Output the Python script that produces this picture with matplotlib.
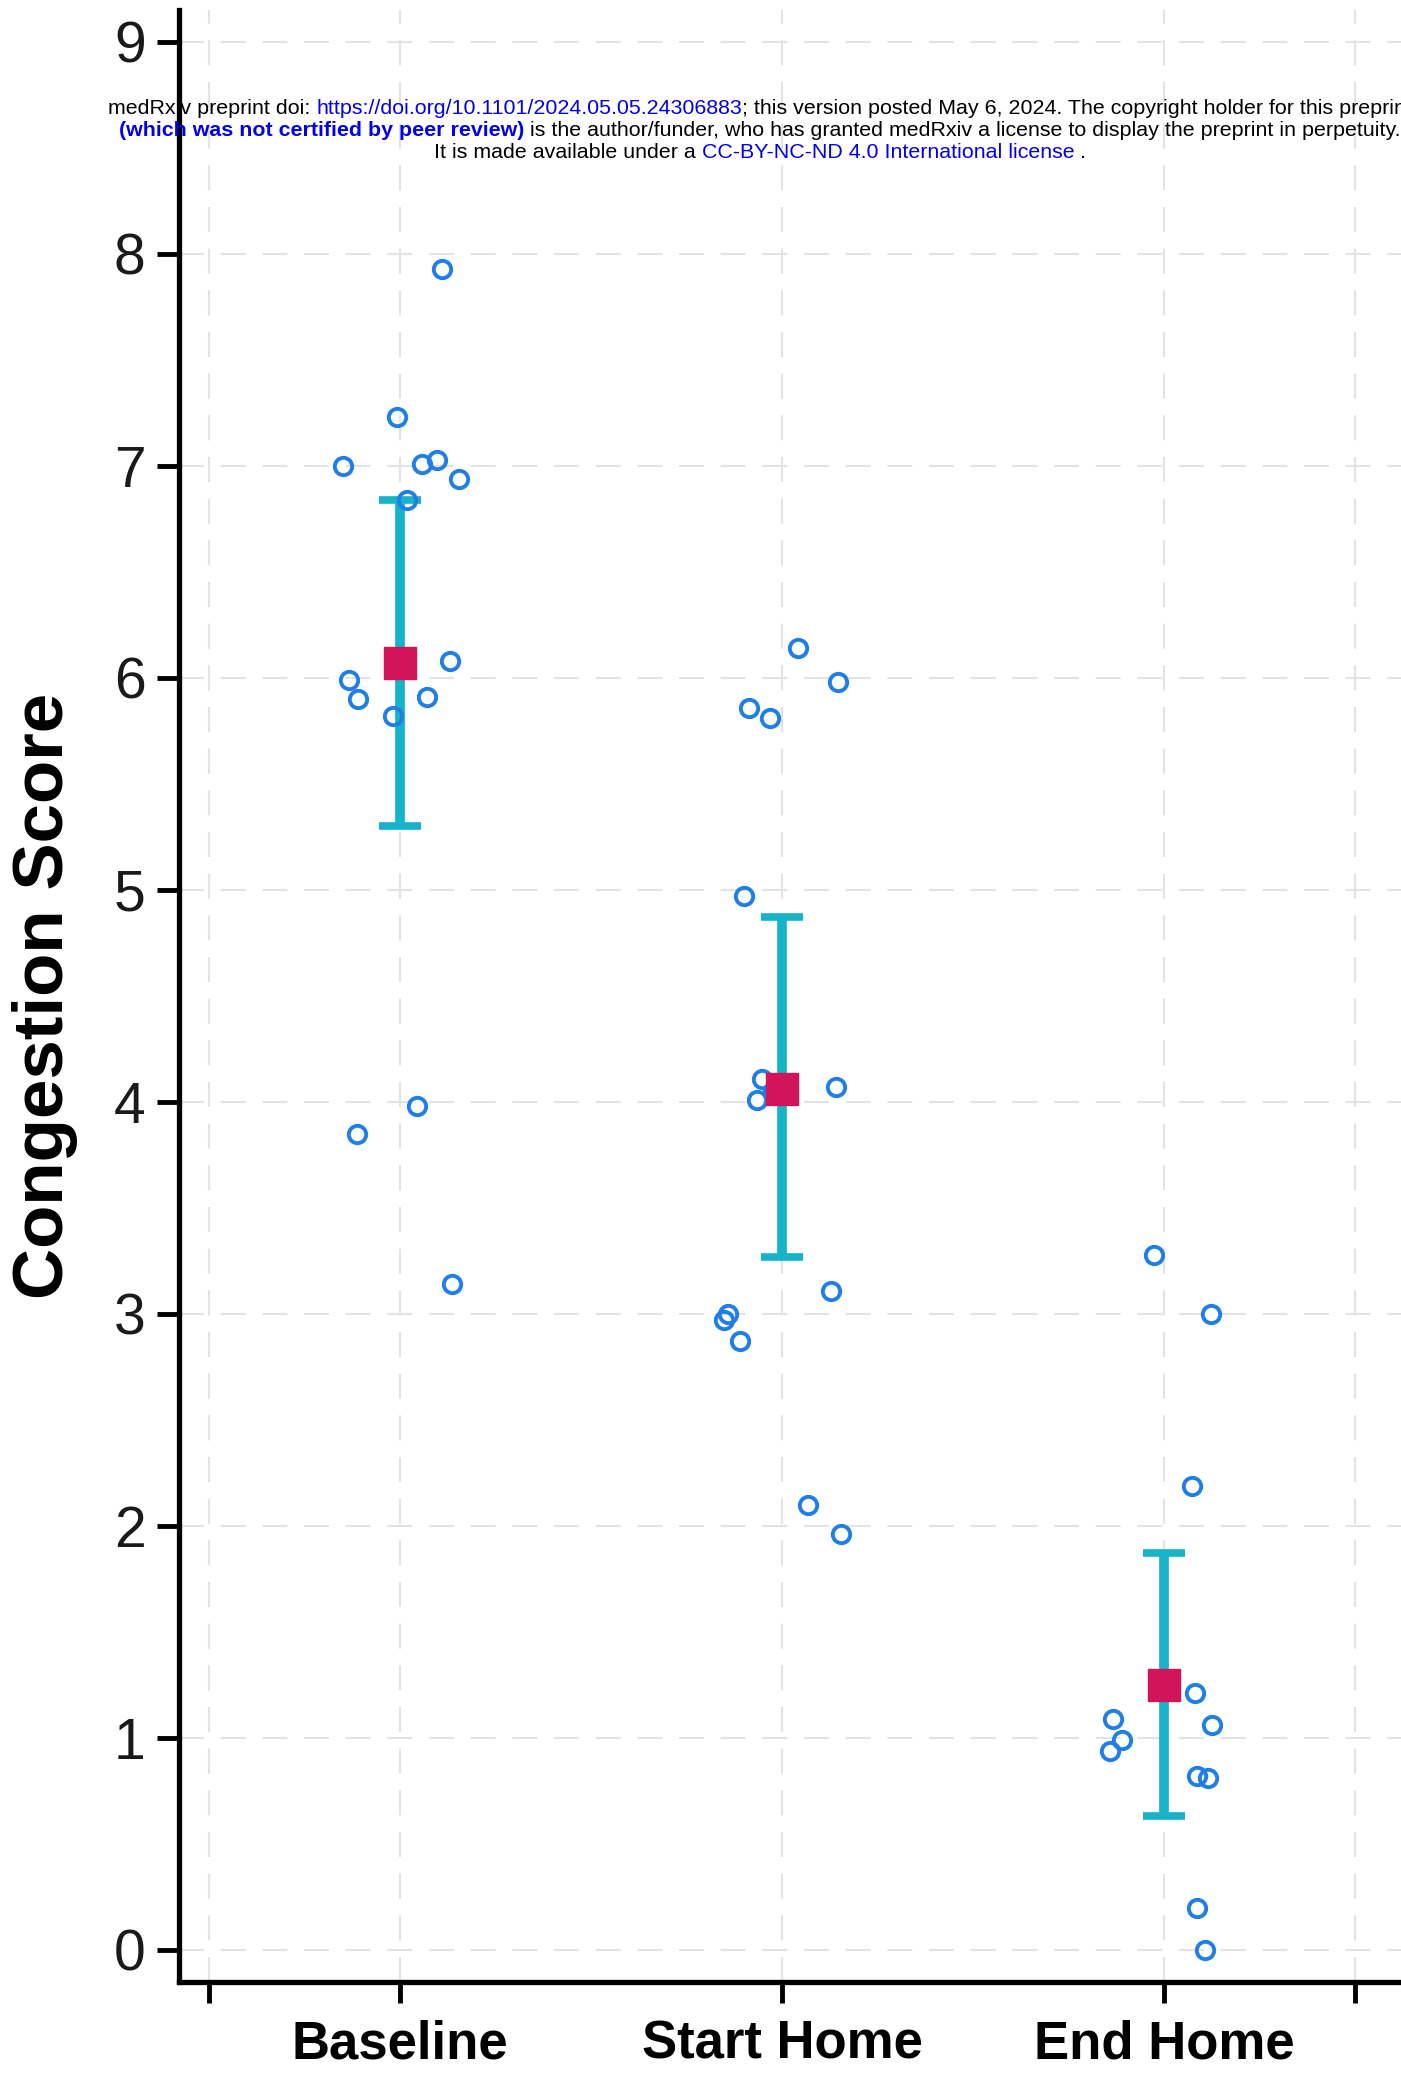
import matplotlib
matplotlib.use('Agg')
import matplotlib.pyplot as plt
import numpy as np

plt.rcParams['font.family'] = ['Liberation Sans', 'DejaVu Sans']

# groups and per-subject scores, with horizontal jitter offsets
groups = ['Baseline', 'Start Home', 'End Home']
baseline_y = [7.93, 7.23, 7.00, 7.01, 7.03, 6.94, 6.84, 6.08, 5.99, 5.90, 5.91, 5.82, 3.98, 3.85, 3.14]
baseline_dx = [0.109, -0.009, -0.150, 0.057, 0.096, 0.155, 0.017, 0.131, -0.134, -0.111, 0.070, -0.019, 0.045, -0.114, 0.135]
start_y = [6.14, 5.98, 5.86, 5.81, 4.97, 4.11, 4.01, 4.05, 4.07, 3.00, 2.97, 2.87, 3.11, 2.10, 1.96]
start_dx = [0.042, 0.146, -0.087, -0.031, -0.101, -0.052, -0.066, -0.024, 0.142, -0.142, -0.153, -0.111, 0.128, 0.069, 0.153]
end_y = [3.28, 3.00, 2.19, 1.21, 1.06, 1.09, 0.99, 0.94, 0.82, 0.81, 0.20, 0.00]
end_dx = [-0.026, 0.123, 0.073, 0.080, 0.126, -0.133, -0.110, -0.141, 0.086, 0.115, 0.086, 0.107]

# group means with 95% CI
means = [6.07, 4.06, 1.25]
ci_low = [5.30, 3.27, 0.63]
ci_high = [6.84, 4.87, 1.87]

scores = [baseline_y, start_y, end_y]
jitter = [baseline_dx, start_dx, end_dx]

fig = plt.figure(figsize=(14.01, 20.74), dpi=100)
ax = fig.add_axes([0.1278, 0.0444, 0.8722, 0.9508])

pos = np.arange(1, len(groups) + 1)
yerr = [np.array(means) - np.array(ci_low), np.array(ci_high) - np.array(means)]
ax.errorbar(pos, means, yerr=yerr, fmt='none', ecolor='#17b3c9', elinewidth=7,
            capsize=15, capthick=5.5, zorder=3)
for i in range(len(groups)):
    ax.plot(pos[i] + np.array(jitter[i]), scores[i], 'o', markersize=12.5,
            markerfacecolor='none', markeredgecolor='#1f7fe6', markeredgewidth=2.8, zorder=4)
ax.plot(pos, means, 's', color='#d2145a', markersize=23, zorder=5)

ax.set_xlim(0.4215, 3.62)
ax.set_ylim(-0.151, 9.151)
ax.set_yticks(range(0, 10))
ax.set_xticks([0.5, 1, 2, 3, 3.5])
ax.set_xticklabels([''] + groups + [''], fontsize=38, fontweight='bold')
ax.tick_params(axis='y', labelsize=41, labelcolor='#1a1a1a', length=16, width=3.5, pad=8)
ax.tick_params(axis='x', length=15, width=3.5, pad=12)

ax.grid(True, color='#e3e3e3', linestyle=(0, (12, 8)), linewidth=1.5)
ax.set_axisbelow(True)
for s in ['top', 'right']:
    ax.spines[s].set_visible(False)
for s in ['left', 'bottom']:
    ax.spines[s].set_linewidth(3.8)

ax.set_ylabel('Congestion Score', fontsize=51, fontweight='bold')
ax.yaxis.set_label_coords(-0.083, 0.5)

# medRxiv header, drawn piece by piece so colours can change mid-line
renderer = fig.canvas.get_renderer()
W = fig.bbox.width

def header_line(ypix, parts, size=15.4):
    probe = fig.text(0, 0, 'x x', fontsize=size)
    probe2 = fig.text(0, 0, 'xx', fontsize=size)
    sp = probe.get_window_extent(renderer).width - probe2.get_window_extent(renderer).width
    probe.remove()
    probe2.remove()
    items = []
    total = 0
    for txt, color, bold, gap in parts:
        t = fig.text(0, 1 - ypix / fig.bbox.height, txt, fontsize=size, color=color,
                     fontweight='bold' if bold else 'normal', va='center', ha='left')
        w = t.get_window_extent(renderer).width
        total += w + (sp if gap else 0)
        items.append((t, w, gap))
    x = 760 - total / 2
    for t, w, gap in items:
        if gap:
            x += sp
        t.set_x(x / W)
        x += w

blue = '#0000ee'
header_line(108, [('medRxiv preprint doi:', 'black', False, False),
                  ('https://doi.org/10.1101/2024.05.05.24306883', blue, False, True),
                  ('; this version posted May 6, 2024. The copyright holder for this preprint', 'black', False, False)])
header_line(130, [('(which was not certified by peer review)', blue, True, False),
                  ('is the author/funder, who has granted medRxiv a license to display the preprint in perpetuity.', 'black', False, True)])
header_line(152, [('It is made available under a', 'black', False, False),
                  ('CC-BY-NC-ND 4.0 International license', blue, False, True),
                  ('.', 'black', False, True)])

fig.savefig('out.png', dpi=100)
